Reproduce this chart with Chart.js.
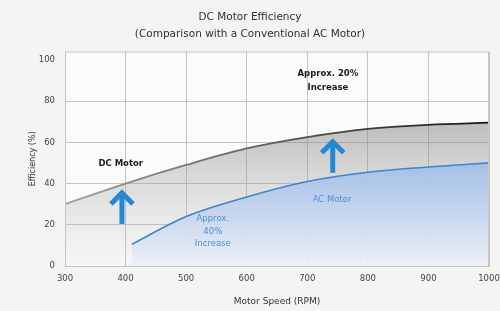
<!DOCTYPE html>
<html>
<head>
<meta charset="utf-8">
<script src="https://cdn.jsdelivr.net/npm/chart.js@4.4.1/dist/chart.umd.min.js"></script>
<style>
  body { margin: 0; background: #f4f4f2; }
  #wrap { width: 500px; height: 311px; }
</style>
</head>
<body>
<div id="wrap"><canvas id="effChart" width="500" height="311"></canvas></div>
<script>
// values
const dcRpm = [300, 400, 500, 600, 700, 800, 900, 1000];
const dcEff = [30, 40, 49, 57, 62.5, 66.5, 68.5, 69.5];
const acRpm = [410, 500, 600, 700, 800, 900, 1000];
const acEff = [10.5, 24, 33.5, 41, 45.5, 48, 50];
const yTicks = [0, 20, 40, 60, 80, 100];

// notes on the plot: [rpm, efficiency, text]
const darkNotes = [[392, 49.6, 'DC Motor'], [734, 93.3, 'Approx. 20%'], [734, 86.5, 'Increase']];
const blueNotes = [[741, 32, 'AC Motor'], [544, 22.8, 'Approx.'], [544, 16.5, '40%'], [544, 10.7, 'Increase']];
// arrows: [rpm, from, to]
const arrows = [[394, 20.4, 37.4], [742, 45.2, 62.2]];

const FONT = "'DejaVu Sans', sans-serif";

const toPts = (xs, ys) => xs.map((x, i) => ({ x: x, y: ys[i] }));

const plotBg = {
  id: 'plotBg',
  beforeDraw(chart) {
    const { ctx, chartArea: a } = chart;
    ctx.save();
    ctx.fillStyle = '#fbfbfa';
    ctx.fillRect(a.left, a.top, a.right - a.left, a.bottom - a.top);
    ctx.restore();
  },
  afterDraw(chart) {
    const { ctx, chartArea: a } = chart;
    ctx.save();
    ctx.strokeStyle = '#c4c4c4';
    ctx.lineWidth = 1;
    ctx.strokeRect(a.left + 0.5, a.top + 0.5, a.right - a.left - 1, a.bottom - a.top);
    ctx.restore();
  }
};

const notes = {
  id: 'notes',
  afterDatasetsDraw(chart) {
    const { ctx, scales: { x, y } } = chart;
    ctx.save();
    ctx.textAlign = 'center';
    ctx.textBaseline = 'middle';
    ctx.fillStyle = '#1a1a1a';
    ctx.font = 'bold 8.5px ' + FONT;
    darkNotes.forEach(n => ctx.fillText(n[2], x.getPixelForValue(n[0]), y.getPixelForValue(n[1])));
    ctx.fillStyle = '#4a90d6';
    ctx.font = '8.5px ' + FONT;
    blueNotes.forEach(n => ctx.fillText(n[2], x.getPixelForValue(n[0]), y.getPixelForValue(n[1])));

    ctx.strokeStyle = '#2688d4';
    ctx.lineWidth = 5;
    arrows.forEach(a => {
      const px = x.getPixelForValue(a[0]);
      const y0 = y.getPixelForValue(a[1]);
      const y1 = y.getPixelForValue(a[2]);
      ctx.lineCap = 'butt';
      ctx.beginPath();
      ctx.moveTo(px, y0);
      ctx.lineTo(px, y1 + 3);
      ctx.stroke();
      ctx.lineJoin = 'miter';
      ctx.beginPath();
      ctx.moveTo(px - 11, y1 + 15);
      ctx.lineTo(px, y1 + 4);
      ctx.lineTo(px + 11, y1 + 15);
      ctx.stroke();
    });
    ctx.restore();
  }
};

function vGrad(ctx, yScale, stops) {
  const top = yScale.getPixelForValue(stops[0][0]);
  const bot = yScale.getPixelForValue(0);
  const g = ctx.createLinearGradient(0, top, 0, bot);
  stops.forEach(s => g.addColorStop(Math.min(1, Math.max(0, (yScale.getPixelForValue(s[0]) - top) / (bot - top))), s[1]));
  return g;
}

new Chart(document.getElementById('effChart'), {
  type: 'line',
  data: {
    datasets: [
      {
        label: 'AC Motor',
        data: toPts(acRpm, acEff),
        order: 0,
        borderColor: '#3a86d4',
        borderWidth: 1.6,
        fill: 'origin',
        backgroundColor: c => {
          const ch = c.chart;
          if (!ch.chartArea) return 'rgba(170,195,232,0.9)';
          return vGrad(ch.ctx, ch.scales.y, [[50, 'rgba(160,190,232,0.95)'], [20, 'rgba(205,218,240,0.92)'], [0, 'rgba(236,240,248,0.9)']]);
        },
        pointRadius: 0,
        cubicInterpolationMode: 'monotone'
      },
      {
        label: 'DC Motor',
        data: toPts(dcRpm, dcEff),
        order: 1,
        borderColor: c => {
          const ch = c.chart;
          if (!ch.chartArea) return '#444';
          const g = ch.ctx.createLinearGradient(ch.chartArea.left, 0, ch.chartArea.right, 0);
          g.addColorStop(0, '#a0a0a0');
          g.addColorStop(1, '#151515');
          return g;
        },
        borderWidth: 1.8,
        fill: 'origin',
        backgroundColor: c => {
          const ch = c.chart;
          if (!ch.chartArea) return 'rgba(150,150,150,0.4)';
          return vGrad(ch.ctx, ch.scales.y, [[70, 'rgba(125,125,125,0.5)'], [0, 'rgba(200,200,200,0.1)']]);
        },
        pointRadius: 0,
        cubicInterpolationMode: 'monotone'
      }
    ]
  },
  options: {
    responsive: false,
    animation: false,
    layout: { padding: { left: 0, right: 0, top: 0, bottom: 0 } },
    plugins: {
      legend: { display: false },
      tooltip: { enabled: false },
      title: {
        display: true,
        text: ['DC Motor Efficiency', '(Comparison with a Conventional AC Motor)'],
        color: '#2f2f2f',
        font: { family: FONT, size: 10.5, weight: 'normal', lineHeight: 1.6 },
        padding: { top: 9, bottom: 9 }
      }
    },
    scales: {
      x: {
        type: 'linear',
        min: 300,
        max: 1000,
        afterFit: s => { s.height = 45; s.paddingRight = 11; s.paddingLeft = 0; },
        ticks: { stepSize: 100, color: '#444', padding: 8, font: { family: FONT, size: 8.5 }, maxRotation: 0, callback: v => String(v) },
        grid: { color: '#c4c4c4', drawTicks: false },
        border: { color: '#c4c4c4' },
        title: { display: true, text: 'Motor Speed (RPM)', color: '#333', font: { family: FONT, size: 9 }, padding: { top: 0, bottom: 4 } }
      },
      y: {
        min: 0,
        max: 104,
        afterFit: s => { s.width = 65; },
        afterBuildTicks: s => { s.ticks = yTicks.map(v => ({ value: v })); },
        ticks: { color: '#444', padding: 10, font: { family: FONT, size: 8.5 } },
        grid: { color: c => (c.tick && c.tick.value === 100 ? 'rgba(0,0,0,0)' : '#c4c4c4'), drawTicks: false },
        border: { color: '#c4c4c4' },
        title: { display: true, text: 'Efficiency (%)', color: '#333', font: { family: FONT, size: 8 }, padding: { top: 28, bottom: 0 } }
      }
    }
  },
  plugins: [plotBg, notes]
});
</script>
</body>
</html>
